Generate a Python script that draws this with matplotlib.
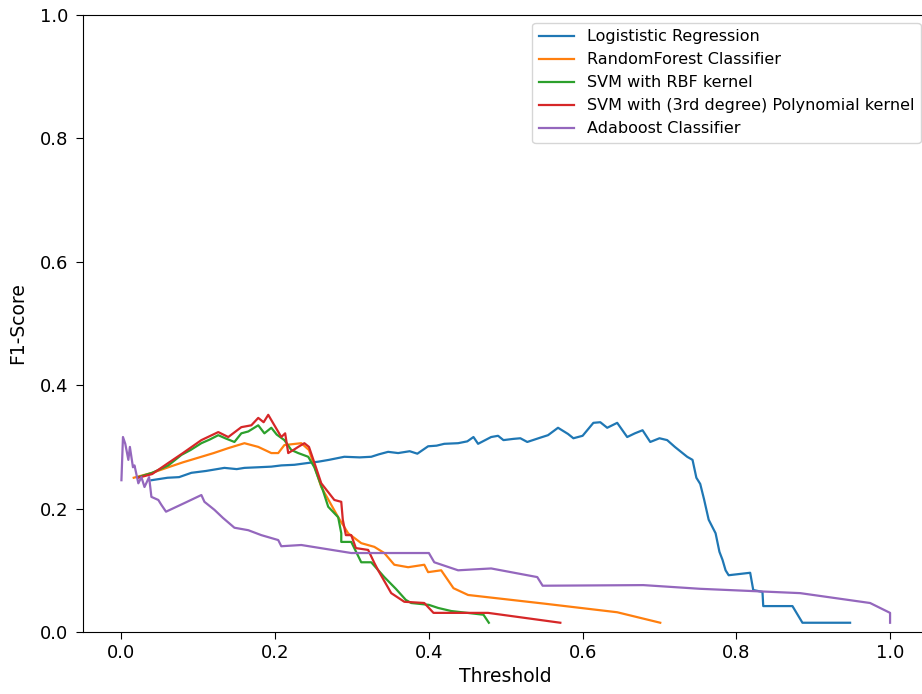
import matplotlib
matplotlib.use('Agg')
import matplotlib.pyplot as plt

# F1-score vs threshold
labels = ['Logististic Regression', 'RandomForest Classifier', 'SVM with RBF kernel',
          'SVM with (3rd degree) Polynomial kernel', 'Adaboost Classifier']

lr_x = [0.039, 0.06, 0.075, 0.091, 0.11, 0.134, 0.15, 0.16, 0.178, 0.195, 0.208, 0.225, 0.243,
        0.256, 0.27, 0.29, 0.31, 0.325, 0.335, 0.347, 0.36, 0.375, 0.385, 0.399, 0.41, 0.42,
        0.438, 0.45, 0.458, 0.464, 0.481, 0.49, 0.497, 0.51, 0.519, 0.528, 0.545, 0.555, 0.568,
        0.581, 0.588, 0.60, 0.614, 0.623, 0.632, 0.645, 0.658, 0.668, 0.678, 0.688, 0.70, 0.71,
        0.72, 0.736, 0.743, 0.748, 0.753, 0.758, 0.764, 0.773, 0.778, 0.782, 0.786, 0.790,
        0.818, 0.822, 0.834, 0.835, 0.873, 0.886, 0.948]
lr_y = [0.246, 0.25, 0.251, 0.258, 0.261, 0.266, 0.264, 0.266, 0.267, 0.268, 0.27, 0.271, 0.274,
        0.276, 0.279, 0.284, 0.283, 0.284, 0.288, 0.292, 0.29, 0.293, 0.289, 0.301, 0.302, 0.305,
        0.306, 0.309, 0.316, 0.305, 0.316, 0.318, 0.311, 0.313, 0.314, 0.308, 0.315, 0.319, 0.331,
        0.321, 0.314, 0.318, 0.339, 0.340, 0.331, 0.339, 0.316, 0.322, 0.327, 0.308, 0.314, 0.311,
        0.30, 0.284, 0.279, 0.25, 0.24, 0.215, 0.182, 0.16, 0.13, 0.117, 0.10, 0.092,
        0.096, 0.068, 0.065, 0.042, 0.042, 0.015, 0.015]

rf_x = [0.016, 0.04, 0.061, 0.08, 0.104, 0.12, 0.139, 0.16, 0.178, 0.195, 0.204, 0.212, 0.234,
        0.244, 0.26, 0.282, 0.295, 0.312, 0.329, 0.342, 0.355, 0.373, 0.394, 0.399, 0.416,
        0.432, 0.451, 0.55, 0.645, 0.701]
rf_y = [0.25, 0.258, 0.267, 0.275, 0.284, 0.29, 0.298, 0.306, 0.30, 0.29, 0.29, 0.303, 0.306,
        0.295, 0.235, 0.186, 0.16, 0.144, 0.138, 0.128, 0.109, 0.105, 0.109, 0.097, 0.10,
        0.071, 0.06, 0.046, 0.032, 0.015]

svm_rbf_x = [0.022, 0.04, 0.061, 0.078, 0.09, 0.104, 0.115, 0.126, 0.135, 0.147, 0.156, 0.165,
             0.178, 0.186, 0.195, 0.202, 0.212, 0.221, 0.230, 0.243, 0.251, 0.262, 0.269, 0.282,
             0.286, 0.286, 0.299, 0.312, 0.325, 0.342, 0.357, 0.370, 0.377, 0.40, 0.412, 0.429,
             0.471, 0.478]
svm_rbf_y = [0.251, 0.258, 0.27, 0.287, 0.295, 0.306, 0.312, 0.319, 0.314, 0.308, 0.322, 0.325,
             0.335, 0.322, 0.331, 0.32, 0.311, 0.295, 0.29, 0.284, 0.267, 0.23, 0.203, 0.186,
             0.160, 0.146, 0.146, 0.113, 0.113, 0.089, 0.07, 0.052, 0.047, 0.044, 0.039, 0.034,
             0.028, 0.015]

svm_poly_x = [0.022, 0.04, 0.061, 0.08, 0.104, 0.126, 0.139, 0.156, 0.169, 0.178, 0.185, 0.191,
              0.199, 0.208, 0.213, 0.217, 0.225, 0.230, 0.238, 0.244, 0.253, 0.260, 0.277, 0.286,
              0.288, 0.292, 0.299, 0.305, 0.321, 0.329, 0.334, 0.351, 0.368, 0.394, 0.406, 0.477,
              0.571]
svm_poly_y = [0.25, 0.256, 0.274, 0.29, 0.311, 0.324, 0.316, 0.332, 0.335, 0.347, 0.34, 0.352,
              0.335, 0.316, 0.322, 0.29, 0.296, 0.30, 0.306, 0.30, 0.267, 0.241, 0.214, 0.211,
              0.182, 0.157, 0.157, 0.136, 0.133, 0.112, 0.10, 0.063, 0.049, 0.047, 0.031, 0.031,
              0.015]

ada_x = [0.0, 0.002, 0.005, 0.009, 0.011, 0.015, 0.017, 0.022, 0.026, 0.030, 0.036, 0.039,
         0.048, 0.052, 0.058, 0.082, 0.104, 0.108, 0.121, 0.132, 0.147, 0.165, 0.182, 0.204,
         0.208, 0.234, 0.299, 0.40, 0.407, 0.438, 0.481, 0.541, 0.548, 0.679, 0.753, 0.883,
         0.974, 1.0, 1.0]
ada_y = [0.246, 0.316, 0.305, 0.279, 0.30, 0.267, 0.27, 0.241, 0.251, 0.235, 0.251, 0.219,
         0.214, 0.206, 0.195, 0.209, 0.222, 0.211, 0.198, 0.185, 0.169, 0.165, 0.157, 0.149,
         0.139, 0.141, 0.128, 0.128, 0.113, 0.10, 0.103, 0.089, 0.075, 0.076, 0.07, 0.063,
         0.047, 0.031, 0.015]

series = [(lr_x, lr_y), (rf_x, rf_y), (svm_rbf_x, svm_rbf_y), (svm_poly_x, svm_poly_y), (ada_x, ada_y)]

fig = plt.figure(figsize=(9.22, 6.94), dpi=100)
# axes run a bit past the right edge, like the cropped original
ax = fig.add_axes([83 / 922, 62 / 694, 845.5 / 922, 617 / 694])

for (x, y), lab in zip(series, labels):
    ax.plot(x, y, label=lab, linewidth=1.6)

ax.set_ylim(0, 1)
ax.tick_params(labelsize=13, length=5)
ax.tick_params(axis='y', pad=5.5)
ax.set_xlabel('Threshold', fontsize=13.5)
ax.set_ylabel('F1-Score', fontsize=13.5, labelpad=9)
ax.legend(loc='upper right', fontsize=11.5, handlelength=2.2)

plt.savefig('out.png')
